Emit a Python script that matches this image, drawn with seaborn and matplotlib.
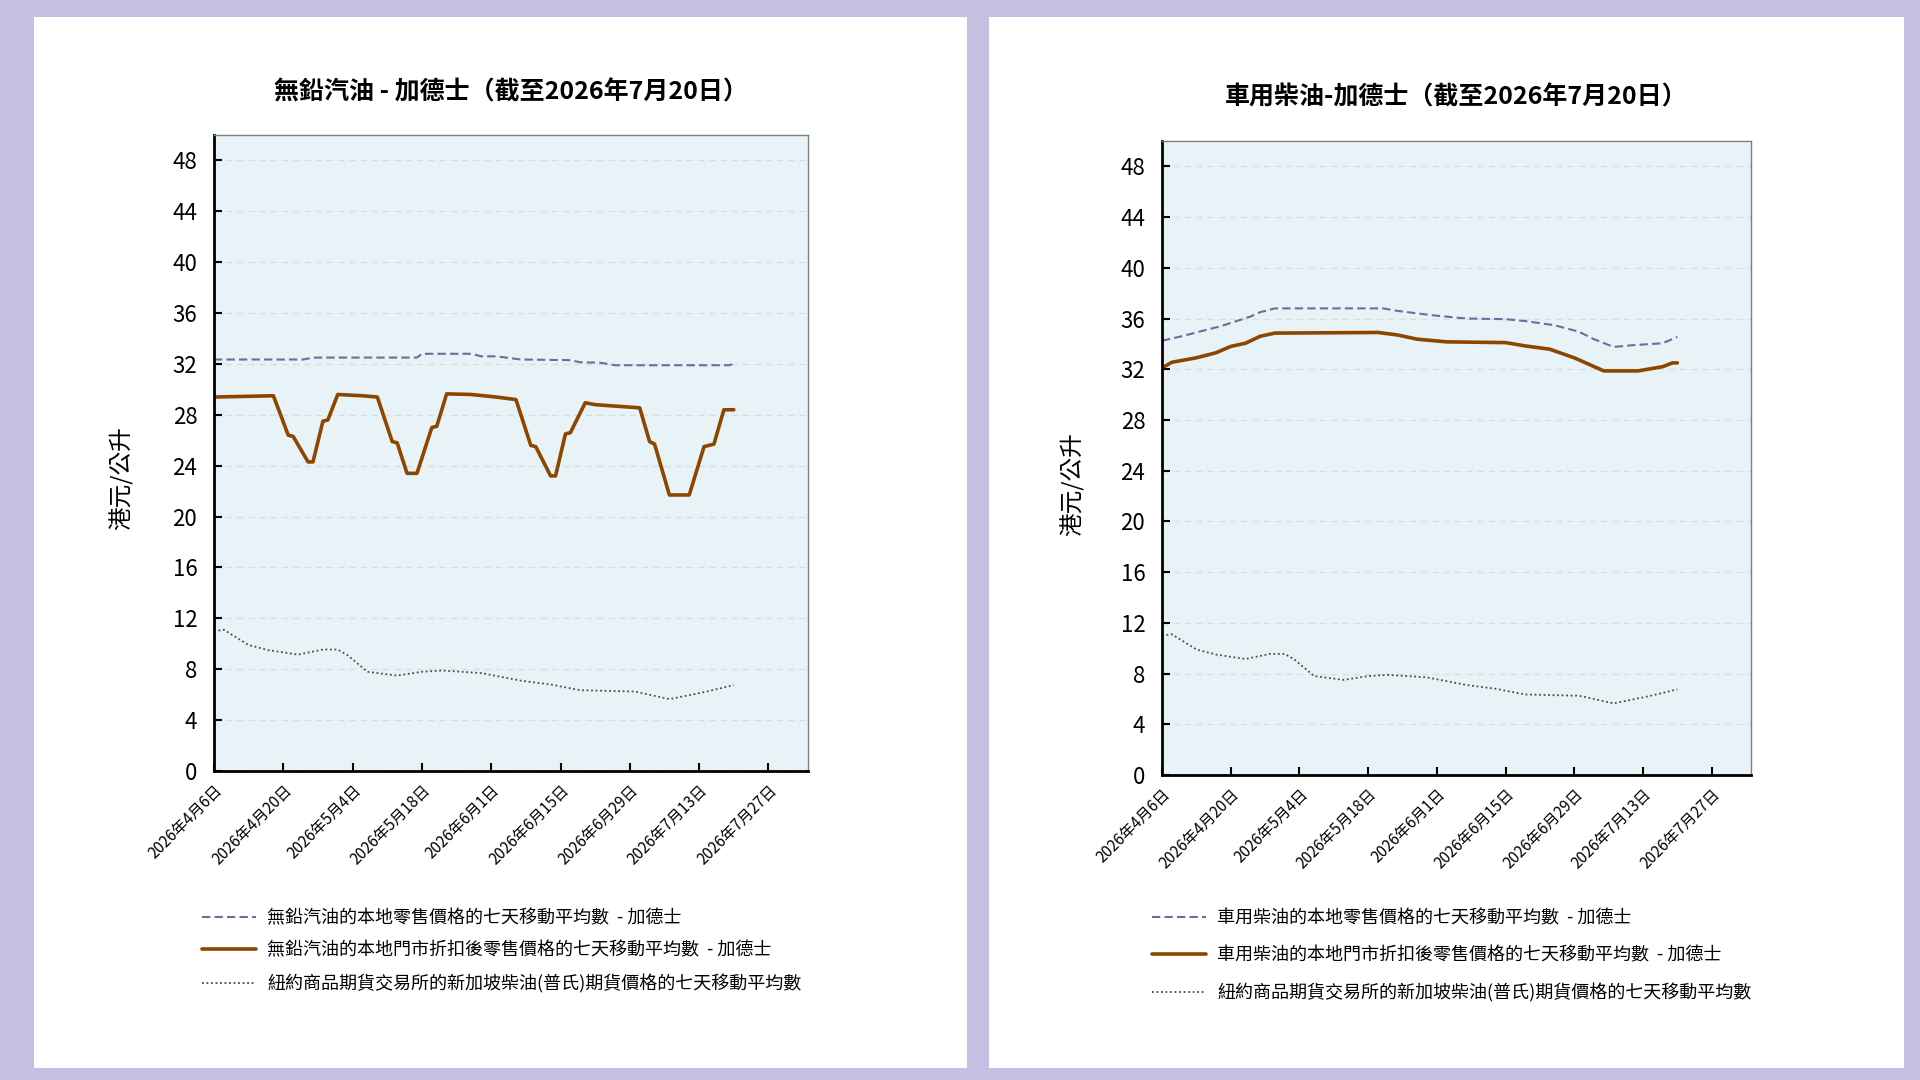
import matplotlib
matplotlib.use("Agg")
import matplotlib.pyplot as plt
from matplotlib.patches import Rectangle
import seaborn as sns
import pandas as pd

# ---------------- data ----------------
petrol_retail_dates = ["2026-04-06", "2026-04-24", "2026-04-26", "2026-05-17", "2026-05-18", "2026-05-28",
                       "2026-05-30", "2026-06-02", "2026-06-07", "2026-06-17", "2026-06-19", "2026-06-23",
                       "2026-06-26", "2026-07-19", "2026-07-20"]
petrol_retail = [32.35, 32.35, 32.5, 32.5, 32.8, 32.8, 32.6, 32.6, 32.35, 32.3, 32.13, 32.1, 31.9, 31.9, 32.0]

petrol_disc_dates = ["2026-04-06", "2026-04-18", "2026-04-21", "2026-04-22", "2026-04-25", "2026-04-26",
                     "2026-04-28", "2026-04-29", "2026-05-01", "2026-05-06", "2026-05-09", "2026-05-12",
                     "2026-05-13", "2026-05-15", "2026-05-17", "2026-05-20", "2026-05-21", "2026-05-23",
                     "2026-05-28", "2026-06-02", "2026-06-06", "2026-06-09", "2026-06-10", "2026-06-13",
                     "2026-06-14", "2026-06-16", "2026-06-17", "2026-06-20", "2026-06-22", "2026-07-01",
                     "2026-07-03", "2026-07-04", "2026-07-07", "2026-07-11", "2026-07-14", "2026-07-16",
                     "2026-07-18", "2026-07-20"]
petrol_disc = [29.4, 29.5, 26.4, 26.3, 24.3, 24.3, 27.5, 27.6, 29.6, 29.5, 29.4, 25.9,
               25.8, 23.4, 23.4, 27.0, 27.1, 29.65, 29.6, 29.4, 29.2, 25.6, 25.5, 23.2,
               23.2, 26.5, 26.6, 28.95, 28.8, 28.55, 25.9, 25.7, 21.7, 21.7, 25.5, 25.7,
               28.4, 28.4]

diesel_retail_dates = ["2026-04-06", "2026-04-10", "2026-04-18", "2026-04-24", "2026-04-26", "2026-04-29",
                       "2026-05-21", "2026-05-24", "2026-05-31", "2026-06-07", "2026-06-15", "2026-06-19",
                       "2026-06-25", "2026-06-30", "2026-07-03", "2026-07-07", "2026-07-11", "2026-07-17",
                       "2026-07-20"]
diesel_retail = [34.25, 34.6, 35.4, 36.15, 36.5, 36.8, 36.8, 36.6, 36.26, 36.0, 35.95, 35.8,
                 35.47, 34.95, 34.37, 33.76, 33.9, 34.05, 34.55]

diesel_disc_dates = ["2026-04-06", "2026-04-08", "2026-04-13", "2026-04-17", "2026-04-20", "2026-04-23",
                     "2026-04-26", "2026-04-29", "2026-05-20", "2026-05-24", "2026-05-28", "2026-06-03",
                     "2026-06-15", "2026-06-19", "2026-06-24", "2026-06-29", "2026-07-05", "2026-07-12",
                     "2026-07-17", "2026-07-19", "2026-07-20"]
diesel_disc = [32.1, 32.55, 32.9, 33.3, 33.8, 34.05, 34.6, 34.85, 34.9, 34.7, 34.37, 34.16,
               34.1, 33.84, 33.58, 32.9, 31.87, 31.87, 32.2, 32.5, 32.5]

futures_dates = ["2026-04-06", "2026-04-08", "2026-04-13", "2026-04-17", "2026-04-23", "2026-04-28",
                 "2026-05-01", "2026-05-03", "2026-05-07", "2026-05-13", "2026-05-18", "2026-05-22",
                 "2026-05-30", "2026-06-07", "2026-06-13", "2026-06-19", "2026-06-30", "2026-07-07",
                 "2026-07-14", "2026-07-20"]
futures = [11.0, 11.1, 9.9, 9.5, 9.15, 9.55, 9.55, 9.1, 7.8, 7.5, 7.8, 7.9,
           7.7, 7.1, 6.8, 6.35, 6.25, 5.65, 6.2, 6.75]

tick_dates = ["2026-04-06", "2026-04-20", "2026-05-04", "2026-05-18", "2026-06-01",
              "2026-06-15", "2026-06-29", "2026-07-13", "2026-07-27"]
tick_labels = ["2026年4月6日", "2026年4月20日", "2026年5月4日", "2026年5月18日", "2026年6月1日",
               "2026年6月15日", "2026年6月29日", "2026年7月13日", "2026年7月27日"]
y_ticks = list(range(0, 49, 4))

titles = ["無鉛汽油 - 加德士（截至2026年7月20日）", "車用柴油-加德士（截至2026年7月20日）"]
y_label = "港元/公升"
legend_left = ["無鉛汽油的本地零售價格的七天移動平均數  - 加德士",
               "無鉛汽油的本地門市折扣後零售價格的七天移動平均數  - 加德士",
               "紐約商品期貨交易所的新加坡柴油(普氏)期貨價格的七天移動平均數"]
legend_right = ["車用柴油的本地零售價格的七天移動平均數  - 加德士",
                "車用柴油的本地門市折扣後零售價格的七天移動平均數  - 加德士",
                "紐約商品期貨交易所的新加坡柴油(普氏)期貨價格的七天移動平均數"]

# ---------------- style ----------------
sns.set_theme(style="white")
plt.rcParams["font.family"] = ["Noto Sans CJK TC", "DejaVu Sans"]

BG = "#c5bfe3"
AX_BG = "#e8f3f8"
PURPLE = "#76679f"
BROWN = "#8c4600"
DOT = "#4a4a4a"

fig = plt.figure(figsize=(19.2, 10.8), dpi=100)
fig.patch.set_facecolor(BG)

W, H = 1920.0, 1080.0
# white panels
for (x0, x1) in [(34, 967), (989, 1904)]:
    fig.patches.append(Rectangle((x0 / W, 1 - 1068 / H), (x1 - x0) / W, (1068 - 17) / H,
                                 transform=fig.transFigure, facecolor="white",
                                 edgecolor="none", zorder=-10))


def mkdf(dates, vals):
    return pd.DataFrame({"date": pd.to_datetime(dates), "value": vals})


panels = [
    dict(rect=(214, 135, 808, 771), title=titles[0], title_y=92,
         series=[(petrol_retail_dates, petrol_retail), (petrol_disc_dates, petrol_disc),
                 (futures_dates, futures)],
         labels=legend_left, ylabel_x=122, ylabel_y=478,
         leg_anchor=(202, 909), leg_spacing=0.8),
    dict(rect=(1162, 141, 1751, 775), title=titles[1], title_y=97,
         series=[(diesel_retail_dates, diesel_retail), (diesel_disc_dates, diesel_disc),
                 (futures_dates, futures)],
         labels=legend_right, ylabel_x=1073, ylabel_y=484,
         leg_anchor=(1152, 909), leg_spacing=1.05),
]

styles = [dict(color=PURPLE, linestyle=(0, (4, 2)), linewidth=1.5),
          dict(color=BROWN, linestyle="-", linewidth=2.6),
          dict(color=DOT, linestyle=(0, (1, 1.5)), linewidth=1.3)]

for p in panels:
    x0, y0, x1, y1 = p["rect"]
    ax = fig.add_axes([x0 / W, 1 - y1 / H, (x1 - x0) / W, (y1 - y0) / H])
    ax.set_zorder(5)
    ax.set_facecolor(AX_BG)
    for (d, v), st, lab in zip(p["series"], styles, p["labels"]):
        sns.lineplot(data=mkdf(d, v), x="date", y="value", ax=ax, label=lab, **st)

    ax.set_xlim(pd.Timestamp("2026-04-06"), pd.Timestamp("2026-08-04"))
    ax.set_ylim(0, 50)
    ax.set_yticks(y_ticks)
    ax.set_yticklabels([str(t) for t in y_ticks], fontsize=16)
    ax.set_xticks(pd.to_datetime(tick_dates))
    ax.set_xticklabels(tick_labels, rotation=45, ha="right", rotation_mode="anchor",
                       fontsize=11, color="#333333")
    ax.tick_params(axis="both", direction="in", length=6, width=1.5, colors="black",
                   left=True, bottom=True, top=False, right=False)
    ax.tick_params(axis="x", pad=8)
    ax.tick_params(axis="y", pad=12)
    ax.grid(axis="y", linestyle=(0, (5, 4)), color="#d3dde2", linewidth=0.9)
    ax.grid(axis="x", visible=False)
    ax.set_axisbelow(True)
    for s in ["left", "bottom"]:
        ax.spines[s].set_color("black")
        ax.spines[s].set_linewidth(2)
    for s in ["top", "right"]:
        ax.spines[s].set_color("#7f7f7f")
        ax.spines[s].set_linewidth(1)
    ax.set_xlabel("")
    ax.set_ylabel("")

    fig.text(((x0 + x1) / 2) / W, 1 - p["title_y"] / H, p["title"], ha="center", va="center",
             fontsize=18, fontweight="bold", color="black")
    fig.text(p["ylabel_x"] / W, 1 - p["ylabel_y"] / H, y_label, rotation=90,
             ha="center", va="center", fontsize=17, color="black")

    leg = ax.legend(loc="upper left",
                    bbox_to_anchor=(p["leg_anchor"][0] / W, 1 - p["leg_anchor"][1] / H),
                    bbox_transform=fig.transFigure, frameon=False, fontsize=13,
                    handlelength=3.0, handletextpad=0.6, labelspacing=p["leg_spacing"],
                    borderaxespad=0, borderpad=0)
    for t in leg.get_texts():
        t.set_color("black")

fig.savefig("out.png", dpi=100, facecolor=BG)
